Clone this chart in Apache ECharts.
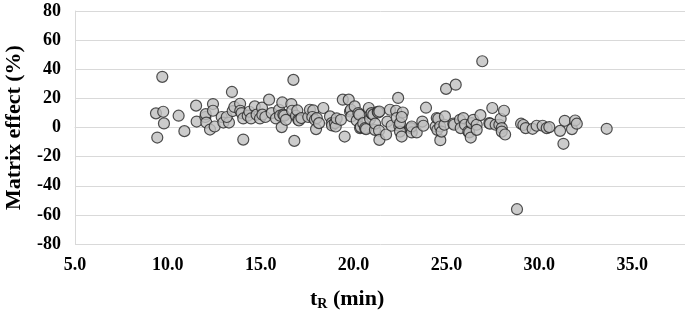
<!DOCTYPE html>
<html>
<head>
<meta charset="utf-8">
<title>Matrix effect vs tR</title>
<script src="https://cdn.jsdelivr.net/npm/echarts@6/dist/echarts.min.js"></script>
<style>
  html, body { margin: 0; padding: 0; background: #fff; }
  #chart { width: 685px; height: 311px; }
</style>
</head>
<body>
<div id="chart"></div>
<script>
// retention time (min) and matrix effect (%) for each compound
var retentionTimes = [
  9.70, 9.36, 9.75, 9.79, 9.43, 10.58, 10.89, 11.52, 11.55, 12.02,
  12.04, 12.07, 12.43, 12.43, 12.27, 12.52, 12.90, 12.99, 13.29, 13.17,
  13.45, 13.49, 13.58, 13.89, 13.90, 13.97, 14.06, 14.06, 14.30, 14.39,
  14.48, 14.68, 14.78, 14.96, 15.07, 15.09, 15.25, 15.45, 15.59, 15.82,
  15.99, 16.04, 16.16, 16.13, 16.22, 16.27, 16.36, 16.65, 16.76, 16.81,
  16.69, 16.90, 16.97, 17.02, 17.06, 17.19, 17.56, 17.65, 17.83, 17.78,
  17.92, 17.98, 18.02, 18.14, 18.37, 18.73, 18.82, 18.84, 19.00, 19.04,
  19.09, 19.32, 19.42, 19.52, 19.74, 19.81, 19.85, 19.88, 20.06, 20.17,
  20.26, 20.31, 20.35, 20.39, 20.52, 20.62, 20.67, 20.82, 20.89, 20.96,
  20.97, 21.06, 21.15, 21.16, 21.30, 21.33, 21.37, 21.39, 21.39, 21.75,
  21.82, 21.96, 22.05, 22.29, 22.32, 22.40, 22.46, 22.50, 22.50, 22.59,
  22.65, 22.59, 23.09, 23.13, 23.13, 23.40, 23.70, 23.76, 23.90, 24.42,
  24.48, 24.56, 24.51, 24.67, 24.66, 24.74, 24.89, 24.92, 24.98, 25.37,
  25.41, 25.50, 25.73, 25.77, 25.91, 26.00, 26.18, 26.23, 26.31, 26.36,
  26.45, 26.63, 26.63, 26.83, 26.93, 27.31, 27.35, 27.47, 27.65, 27.85,
  27.92, 27.98, 27.98, 28.10, 28.16, 28.80, 29.02, 29.14, 29.27, 29.64,
  29.86, 30.18, 30.40, 30.54, 31.12, 31.30, 31.37, 31.76, 31.93, 32.02,
  33.63
];
var matrixEffects = [
  34.8, 9.7, 10.8, 2.8, -6.9, 8.1, -2.5, 15.0, 4.1, 7.2,
  9.2, 3.4, 16.1, 11.5, -1.4, 0.7, 7.2, 3.4, 3.4, 7.2,
  24.4, 11.3, 14.1, 16.3, 11.5, 9.9, 6.2, -8.3, 8.1, 10.8,
  6.2, 14.5, 8.8, 6.2, 13.6, 8.8, 7.2, 19.1, 9.9, 6.2,
  12.2, 8.1, 17.2, 0.3, 8.8, 8.1, 5.3, 16.1, 32.7, -9.2,
  11.5, 8.1, 11.7, 5.3, 4.8, 6.5, 7.2, 12.2, 11.7, 7.2,
  5.3, -1.1, 6.5, 3.0, 13.4, 7.6, 3.0, 1.4, 3.0, 0.7,
  6.2, 5.3, 19.1, -6.2, 19.1, 11.0, 12.2, 7.6, 14.5, 4.8,
  9.9, 8.8, -0.4, 0.3, 3.0, -0.4, -1.1, 13.4, 5.8, 9.4,
  9.9, 8.8, -1.6, 2.6, 10.8, 10.3, -2.1, -8.5, 11.0, -4.8,
  4.1, 12.2, 1.2, 11.5, 6.5, 20.3, 1.2, -2.8, 3.0, -6.2,
  10.3, 7.2, -0.4, -3.4, 0.7, -3.4, 4.1, 1.2, 13.6, 0.7,
  6.5, 6.0, -1.6, -8.7, 0.7, -2.8, 1.9, 7.6, 26.5, 2.6,
  1.9, 29.4, 5.3, -0.4, 6.5, 1.9, -2.8, -3.4, -6.9, 3.0,
  5.3, 1.9, -1.6, 8.5, 45.5, 3.0, 2.6, 13.4, 1.9, 1.9,
  6.0, -0.4, -2.8, 11.5, -4.8, -56.1, 2.6, 1.7, -0.4, -0.9,
  1.2, 1.2, -0.4, 0.3, -2.3, -11.2, 4.6, -1.1, 4.8, 2.6,
  -0.9
];
var xRange = [5, 40, 5];
var yRange = [-80, 80, 20];

var points = retentionTimes.map(function (t, i) { return [t, matrixEffects[i]]; });

var font = '"Liberation Serif", "Times New Roman", serif';
var myChart = echarts.init(document.getElementById('chart'));
var option = {
    animation: false,
    backgroundColor: '#fff',
    title: {
        text: '{a|t}{b|R}{a| (min)}',
        left: 305,
        top: 282,
        textStyle: {
            rich: {
                a: { fontFamily: font, fontWeight: 'bold', fontSize: 22, color: '#000' },
                b: { fontFamily: font, fontWeight: 'bold', fontSize: 14, color: '#000', padding: [10, 0, 0, 0] }
            }
        }
    },
    grid: {
        left: 75,
        top: 11,
        width: 650,
        height: 233,
        outerBoundsMode: 'none',
        containLabel: false
    },
    xAxis: {
        type: 'value',
        min: xRange[0],
        max: xRange[1],
        interval: xRange[2],
        axisLine: { show: true, lineStyle: { color: '#d9d9d9', width: 1 } },
        axisTick: { show: false },
        splitLine: { show: false },
        axisLabel: {
            margin: 12,
            color: '#000',
            fontFamily: font,
            fontWeight: 'bold',
            fontSize: 18,
            formatter: function (v) { return v.toFixed(1); }
        }
    },
    yAxis: {
        type: 'value',
        min: yRange[0],
        max: yRange[1],
        interval: yRange[2],
        name: 'Matrix effect (%)',
        nameLocation: 'middle',
        nameGap: 50,
        nameTextStyle: { fontFamily: font, fontWeight: 'bold', fontSize: 22, color: '#000' },
        axisLine: { show: true, lineStyle: { color: '#d9d9d9', width: 1 } },
        axisTick: { show: false },
        splitLine: { show: true, lineStyle: { color: '#d9d9d9', width: 1 } },
        axisLabel: {
            margin: 14,
            color: '#000',
            fontFamily: font,
            fontWeight: 'bold',
            fontSize: 18
        }
    },
    series: [{
        type: 'scatter',
        data: points,
        symbol: 'circle',
        symbolSize: 11,
        itemStyle: {
            color: '#bfbfbf',
            borderColor: '#262626',
            borderWidth: 1.2
        }
    }]
};
myChart.setOption(option);
</script>
</body>
</html>
